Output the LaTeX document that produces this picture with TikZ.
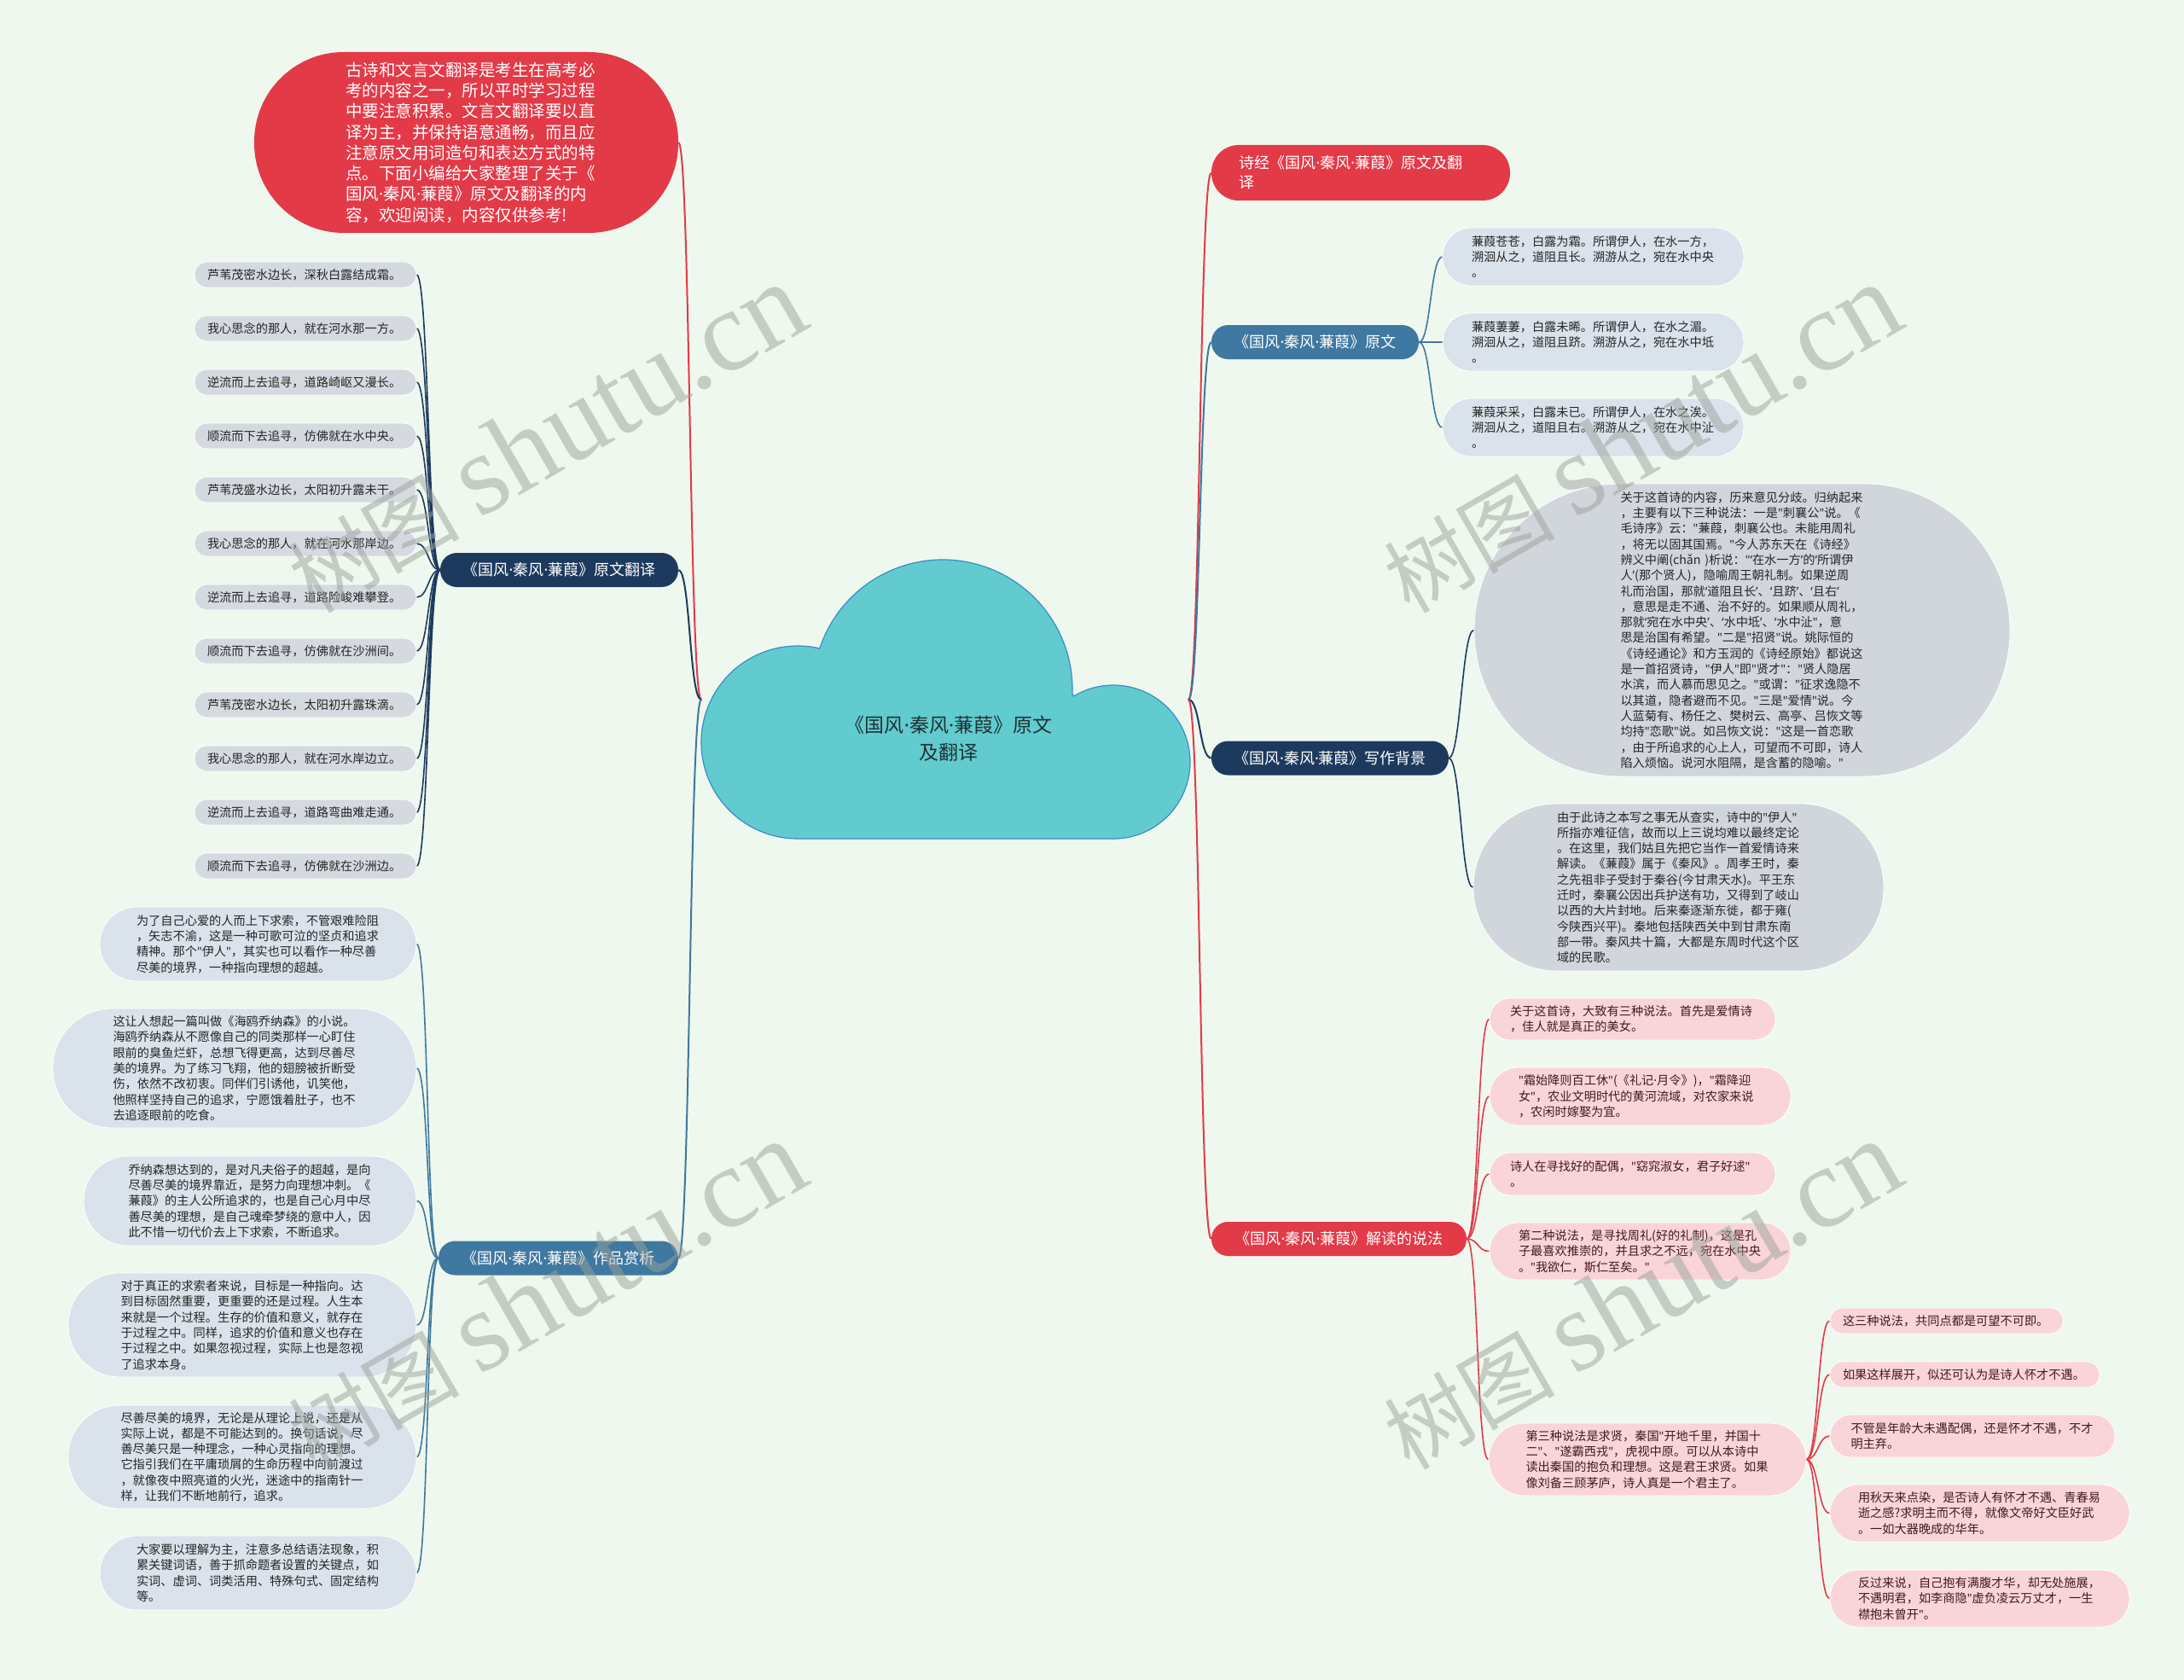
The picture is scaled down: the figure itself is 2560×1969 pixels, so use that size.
\documentclass[tikz,border=0pt]{standalone}
\usepackage{fontspec}
\setmainfont{Noto Sans CJK SC}
\newfontfamily\wmserif{Liberation Serif}
\newfontfamily\lat{Noto Sans}
\newcommand{\mydot}{{\lat ·}}
\newcommand{\mydq}{{\lat "}}
\newcommand{\mylsq}{{\lat ‘}}
\newcommand{\myrsq}{{\lat ’}}
\definecolor{bgc}{HTML}{EFF8EE}
\definecolor{redc}{HTML}{E33A48}
\definecolor{navyc}{HTML}{1D3A5E}
\definecolor{bluec}{HTML}{3F78A0}
\definecolor{leafgray}{HTML}{D5D9E0}
\definecolor{leafblue}{HTML}{DAE2EB}
\definecolor{ellgray}{HTML}{D1D5DC}
\definecolor{pinkc}{HTML}{F9D5D9}
\definecolor{pinktext}{HTML}{45191C}
\definecolor{txt}{HTML}{262626}
\definecolor{cloudfill}{HTML}{62CBCF}
\definecolor{cloudline}{HTML}{3A8CC8}
\definecolor{cloudtext}{HTML}{1E3333}
\definecolor{wmc}{HTML}{9AA29A}
\pgfdeclarelayer{bgl}
\pgfdeclarelayer{lines}
\pgfsetlayers{bgl,lines,main}
\begin{document}
\begin{tikzpicture}[x=1pt,y=-1pt,
  lvl/.style={rectangle, inner sep=0pt, text=white, font=\fontsize{18}{23}\selectfont, align=center},
  sm/.style={rectangle, inner sep=0pt, align=left, text width=285pt, font=\fontsize{14.2}{18.3}\selectfont, draw=white, line width=0.8pt},
  gleaf/.style={sm, fill=leafgray, text=txt},
  bleaf/.style={sm, fill=leafblue, text=txt},
  eleaf/.style={sm, fill=ellgray, text=txt},
  pleaf/.style={sm, fill=pinkc, text=pinktext},
  wh/.style n args={3}{minimum width=#1pt, minimum height=#2pt, rounded corners=#3pt},
  mainlink/.style={line width=2pt},
  link/.style={line width=1.6pt},
  lft/.style={out=180, in=0, distance=14pt},
  rgt/.style={out=0, in=180, distance=14pt},
  wmark/.style={rotate=30, text=wmc, opacity=0.5, inner sep=0pt}
]
\begin{pgfonlayer}{bgl}
\fill[bgc] (0,0) rectangle (2560,1969);
\end{pgfonlayer}
\useasboundingbox (0,0) rectangle (2560,1969);

% central cloud
\filldraw[fill=cloudfill, draw=cloudline, line width=1.2pt]
  (935,983) arc[start angle=90, end angle=282, radius=113]
  -- (960.8,760) arc[start angle=198.4, end angle=362, radius=152]
  -- (1258.6,815.9) arc[start angle=239, end angle=450, radius=90]
  -- cycle;
\node[font=\fontsize{23}{31.7}\selectfont, text=cloudtext, align=center] (center) at (1112,866) {《国风\mydot 秦风\mydot 蒹葭》原文\\及翻译};
\coordinate (cL) at (822,820);
\coordinate (cR) at (1393,820);

% left side level 1
\node[lvl, fill=redc, wh={497}{212}{105}, text width=283pt, align=left, font=\fontsize{19.5}{24.3}\selectfont] (intro) at (546.5,167) {古诗和文言文翻译是考生在高考必\\考的内容之一，所以平时学习过程\\中要注意积累。文言文翻译要以直\\译为主，并保持语意通畅，而且应\\注意原文用词造句和表达方式的特\\点。下面小编给大家整理了关于《\\国风\mydot 秦风\mydot 蒹葭》原文及翻译的内\\容，欢迎阅读，内容仅供参考!};
\node[lvl, fill=navyc, wh={279}{40}{19.5}] (yw) at (655.5,668) {《国风\mydot 秦风\mydot 蒹葭》原文翻译};
\node[lvl, fill=bluec, wh={281}{40}{19.5}] (sx) at (654.5,1474.5) {《国风\mydot 秦风\mydot 蒹葭》作品赏析};

% right side level 1
\node[lvl, fill=redc, wh={350}{65}{32}, text width=285pt, align=left] (sj) at (1595,202.5) {诗经《国风\mydot 秦风\mydot 蒹葭》原文及翻\\译};
\node[lvl, fill=bluec, wh={243}{40}{19.5}] (yuanwen) at (1541.5,401) {《国风\mydot 秦风\mydot 蒹葭》原文};
\node[lvl, fill=navyc, wh={278}{40}{19.5}] (bj) at (1559,888.5) {《国风\mydot 秦风\mydot 蒹葭》写作背景};
\node[lvl, fill=redc, wh={299}{40}{19.5}] (jd) at (1569.5,1452) {《国风\mydot 秦风\mydot 蒹葭》解读的说法};

% translation leaves
\foreach \t [count=\k] in {芦苇茂密水边长，深秋白露结成霜。,我心思念的那人，就在河水那一方。,逆流而上去追寻，道路崎岖又漫长。,顺流而下去追寻，仿佛就在水中央。,芦苇茂盛水边长，太阳初升露未干。,我心思念的那人，就在河水那岸边。,逆流而上去追寻，道路险峻难攀登。,顺流而下去追寻，仿佛就在沙洲间。,芦苇茂密水边长，太阳初升露珠滴。,我心思念的那人，就在河水岸边立。,逆流而上去追寻，道路弯曲难走通。,顺流而下去追寻，仿佛就在沙洲边。}
  \node[gleaf, text width=230pt, wh={260}{30}{14.5}] (t\k) at (358,{322+63*(\k-1)}) {\t};

% appreciation leaves
\node[bleaf, wh={371}{87}{43}] (a1) at (302.5,1106.5) {为了自己心爱的人而上下求索，不管艰难险阻\\，矢志不渝，这是一种可歌可泣的坚贞和追求\\精神。那个\mydq 伊人\mydq ，其实也可以看作一种尽善\\尽美的境界，一种指向理想的超越。};
\node[bleaf, wh={426}{140}{69.5}] (a2) at (275,1252) {这让人想起一篇叫做《海鸥乔纳森》的小说。\\海鸥乔纳森从不愿像自己的同类那样一心盯住\\眼前的臭鱼烂虾，总想飞得更高，达到尽善尽\\美的境界。为了练习飞翔，他的翅膀被折断受\\伤，依然不改初衷。同伴们引诱他，讥笑他，\\他照样坚持自己的追求，宁愿饿着肚子，也不\\去追逐眼前的吃食。};
\node[bleaf, wh={390}{105}{52}] (a3) at (293,1407.5) {乔纳森想达到的，是对凡夫俗子的超越，是向\\尽善尽美的境界靠近，是努力向理想冲刺。《\\蒹葭》的主人公所追求的，也是自己心月中尽\\善尽美的理想，是自己魂牵梦绕的意中人，因\\此不惜一切代价去上下求索，不断追求。};
\node[bleaf, wh={408}{122}{60.5}] (a4) at (284,1553) {对于真正的求索者来说，目标是一种指向。达\\到目标固然重要，更重要的还是过程。人生本\\来就是一个过程。生存的价值和意义，就存在\\于过程之中。同样，追求的价值和意义也存在\\于过程之中。如果忽视过程，实际上也是忽视\\了追求本身。};
\node[bleaf, wh={408}{121}{60}] (a5) at (284,1707.5) {尽善尽美的境界，无论是从理论上说，还是从\\实际上说，都是不可能达到的。换句话说，尽\\善尽美只是一种理念，一种心灵指向的理想。\\它指引我们在平庸琐屑的生命历程中向前渡过\\，就像夜中照亮道的火光，迷途中的指南针一\\样，让我们不断地前行，追求。};
\node[bleaf, wh={371}{87}{43}] (a6) at (302.5,1843.5) {大家要以理解为主，注意多总结语法现象，积\\累关键词语，善于抓命题者设置的关键点，如\\实词、虚词、词类活用、特殊句式、固定结构\\等。};

% original text leaves
\node[bleaf, wh={353}{68}{33.5}] (y1) at (1867.5,301) {蒹葭苍苍，白露为霜。所谓伊人，在水一方，\\溯洄从之，道阻且长。溯游从之，宛在水中央\\。};
\node[bleaf, wh={353}{68}{33.5}] (y2) at (1867.5,401) {蒹葭萋萋，白露未晞。所谓伊人，在水之湄。\\溯洄从之，道阻且跻。溯游从之，宛在水中坻\\。};
\node[bleaf, wh={353}{68}{33.5}] (y3) at (1867.5,501) {蒹葭采采，白露未已。所谓伊人，在水之涘。\\溯洄从之，道阻且右。溯游从之，宛在水中沚\\。};

% background ellipses
\node[eleaf, wh={628}{343}{171}] (e1) at (2042,738.5) {关于这首诗的内容，历来意见分歧。归纳起来\\，主要有以下三种说法：一是\mydq 刺襄公\mydq 说。《\\毛诗序》云：\mydq 蒹葭，刺襄公也。未能用周礼\\，将无以固其国焉。\mydq 今人苏东天在《诗经》\\辨义中阐(chǎn~)析说：\mydq\mylsq 在水一方\myrsq 的\mylsq 所谓伊\\人\myrsq (那个贤人)，隐喻周王朝礼制。如果逆周\\礼而治国，那就\mylsq 道阻且长\myrsq 、\mylsq 且跻\myrsq 、\mylsq 且右\myrsq\\，意思是走不通、治不好的。如果顺从周礼，\\那就\mylsq 宛在水中央\myrsq 、\mylsq 水中坻\myrsq 、\mylsq 水中沚\mydq ，意\\思是治国有希望。\mydq 二是\mydq 招贤\mydq 说。姚际恒的\\《诗经通论》和方玉润的《诗经原始》都说这\\是一首招贤诗，\mydq 伊人\mydq 即\mydq 贤才\mydq ：\mydq 贤人隐居\\水滨，而人慕而思见之。\mydq 或谓：\mydq 征求逸隐不\\以其道，隐者避而不见。\mydq 三是\mydq 爱情\mydq 说。今\\人蓝菊有、杨任之、樊树云、高亭、吕恢文等\\均持\mydq 恋歌\mydq 说。如吕恢文说：\mydq 这是一首恋歌\\，由于所追求的心上人，可望而不可即，诗人\\陷入烦恼。说河水阻隔，是含蓄的隐喻。\mydq};
\node[eleaf, wh={481}{196}{97.5}] (e2) at (1967.5,1040) {由于此诗之本写之事无从查实，诗中的\mydq 伊人\mydq\\所指亦难征信，故而以上三说均难以最终定论\\。在这里，我们姑且先把它当作一首爱情诗来\\解读。《蒹葭》属于《秦风》。周孝王时，秦\\之先祖非子受封于秦谷(今甘肃天水)。平王东\\迁时，秦襄公因出兵护送有功，又得到了岐山\\以西的大片封地。后来秦逐渐东徙，都于雍(\\今陕西兴平)。秦地包括陕西关中到甘肃东南\\部一带。秦风共十篇，大都是东周时代这个区\\域的民歌。};

% interpretation leaves
\node[pleaf, wh={335}{49}{24}, text width=287pt] (p1) at (1913.5,1194.5) {关于这首诗，大致有三种说法。首先是爱情诗\\，佳人就是真正的美女。};
\node[pleaf, wh={353}{68}{33.5}] (p2) at (1922.5,1285) {\mydq 霜始降则百工休\mydq (《礼记\mydot 月令》)，\mydq 霜降迎\\女\mydq ，农业文明时代的黄河流域，对农家来说\\，农闲时嫁娶为宜。};
\node[pleaf, wh={335}{50}{24.5}, text width=287pt] (p3) at (1913.5,1376) {诗人在寻找好的配偶，\mydq 窈窕淑女，君子好逑\mydq\\。};
\node[pleaf, wh={353}{67}{33}] (p4) at (1922.5,1466.5) {第二种说法，是寻找周礼(好的礼制)，这是孔\\子最喜欢推崇的，并且求之不远，宛在水中央\\。\mydq 我欲仁，斯仁至矣。\mydq};
\node[pleaf, wh={372}{85}{42}] (p5) at (1931,1710.5) {第三种说法是求贤，秦国\mydq 开地千里，并国十\\二\mydq 、\mydq 遂霸西戎\mydq ，虎视中原。可以从本诗中\\读出秦国的抱负和理想。这是君王求贤。如果\\像刘备三顾茅庐，诗人真是一个君主了。};

\node[pleaf, wh={273}{30}{14.5}, text width=243pt] (q1) at (2281.5,1548) {这三种说法，共同点都是可望不可即。};
\node[pleaf, wh={316}{30}{14.5}, text width=286pt] (q2) at (2303,1611) {如果这样展开，似还可认为是诗人怀才不遇。};
\node[pleaf, wh={334}{50}{24.5}] (q3) at (2312,1683) {不管是年龄大未遇配偶，还是怀才不遇，不才\\明主弃。};
\node[pleaf, wh={351}{67}{33}] (q4) at (2320.5,1773.5) {用秋天来点染，是否诗人有怀才不遇、青春易\\逝之感?求明主而不得，就像文帝好文臣好武\\。一如大器晚成的华年。};
\node[pleaf, wh={351}{67}{33}] (q5) at (2320.5,1873.5) {反过来说，自己抱有满腹才华，却无处施展，\\不遇明君，如李商隐\mydq 虚负凌云万丈才，一生\\襟抱未曾开\mydq 。};

% connectors
\begin{pgfonlayer}{lines}
\draw[mainlink, redc] (cL) to[lft] (intro.east);
\draw[mainlink, navyc] (cL) to[lft] (yw.east);
\draw[mainlink, bluec] (cL) to[lft] (sx.east);
\draw[mainlink, redc] (cR) to[rgt] (sj.west);
\draw[mainlink, bluec] (cR) to[rgt] (yuanwen.west);
\draw[mainlink, navyc] (cR) to[rgt] (bj.west);
\draw[mainlink, redc] (cR) to[rgt] (jd.west);
\foreach \k in {1,...,12} \draw[link, navyc] (yw.west) to[lft] (t\k.east);
\foreach \k in {1,...,6} \draw[link, bluec] (sx.west) to[lft] (a\k.east);
\foreach \k in {1,2,3} \draw[link, bluec] (yuanwen.east) to[rgt] (y\k.west);
\foreach \k in {1,2} \draw[link, navyc] (bj.east) to[rgt] (e\k.west);
\foreach \k in {1,...,5} \draw[link, redc] (jd.east) to[rgt] (p\k.west);
\foreach \k in {1,...,5} \draw[link, redc] (p5.east) to[rgt] (q\k.west);
\end{pgfonlayer}

% watermarks
\node[wmark] (wm1) at (640,514) {\fontsize{100}{100}\selectfont 树图 {\wmserif\fontsize{135}{135}\selectfont shutu.cn}};
\node[wmark] (wm2) at (1924,514) {\fontsize{100}{100}\selectfont 树图 {\wmserif\fontsize{135}{135}\selectfont shutu.cn}};
\node[wmark] (wm3) at (640,1518) {\fontsize{100}{100}\selectfont 树图 {\wmserif\fontsize{135}{135}\selectfont shutu.cn}};
\node[wmark] (wm4) at (1924,1518) {\fontsize{100}{100}\selectfont 树图 {\wmserif\fontsize{135}{135}\selectfont shutu.cn}};
\end{tikzpicture}
\end{document}
